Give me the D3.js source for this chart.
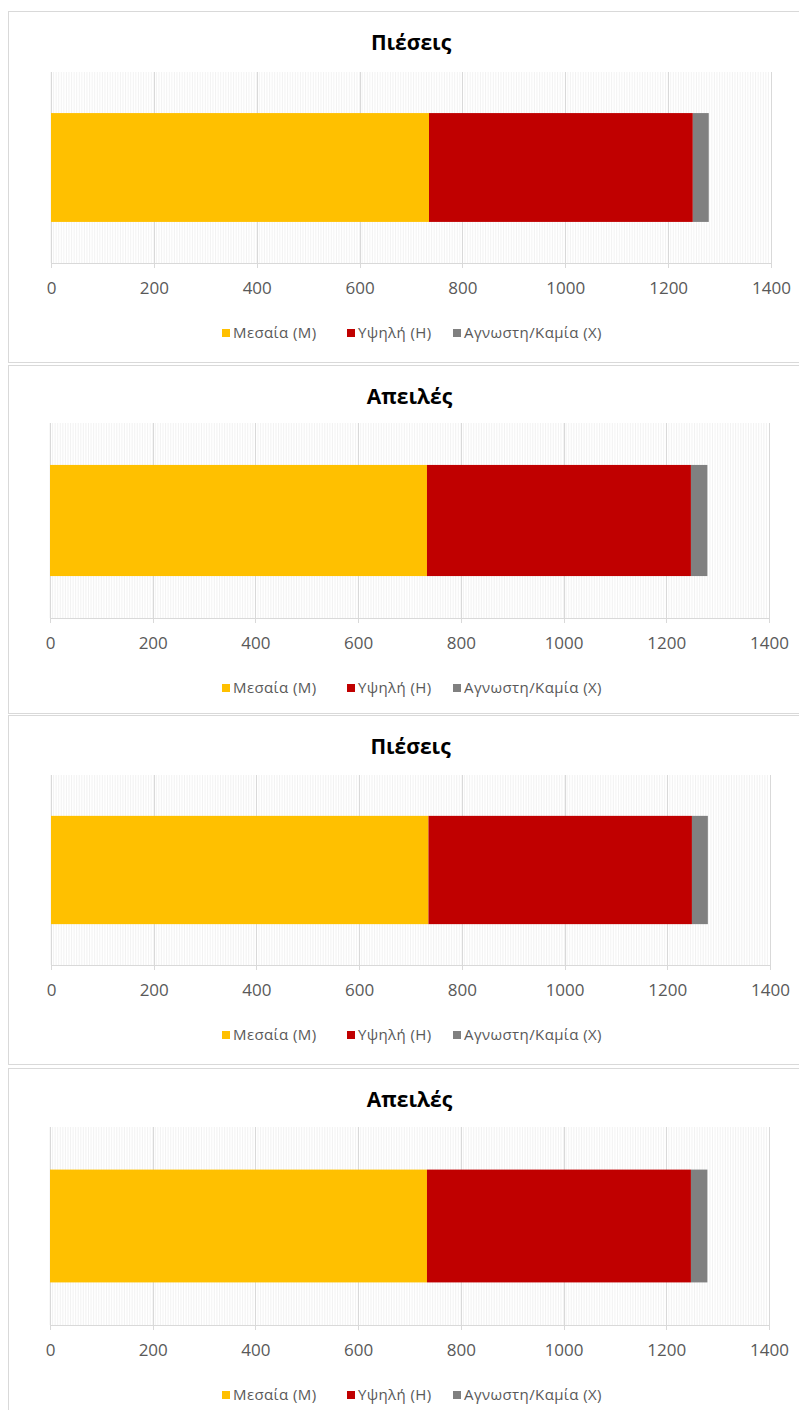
<!DOCTYPE html>
<html>
<head>
<meta charset="utf-8">
<script src="https://cdn.jsdelivr.net/npm/d3@7"></script>
<style>
  body { margin: 0; background: #fff; }
</style>
</head>
<body>
<script>
// chart data
var titles = ["Πιέσεις", "Απειλές", "Πιέσεις", "Απειλές"]
var seriesNames = ["Μεσαία (Μ)", "Υψηλή (Η)", "Αγνωστη/Καμία (Χ)"]
var seriesColors = ["#FFC000", "#C00000", "#808080"]
var mediumValues = [735, 734, 735, 734]
var highValues = [513, 514, 513, 514]
var unknownValues = [31, 32, 31, 32]
var tickValues = [0, 200, 400, 600, 800, 1000, 1200, 1400]

// page size
var w = 799
var h = 1410

// panel layout (border box, plot area)
var panels = [
    { top: 11, bottom: 362, plotTop: 72, plotBottom: 263, left: 51, right: 771 },
    { top: 365, bottom: 713, plotTop: 423, plotBottom: 618, left: 50, right: 769 },
    { top: 715, bottom: 1064, plotTop: 775, plotBottom: 965, left: 51, right: 770 },
    { top: 1068, bottom: 1430, plotTop: 1127, plotBottom: 1325, left: 50, right: 769 }
]

var svg = d3.select("body")
    .append("svg")
    .attr("width", w)
    .attr("height", h)

panels.forEach(function(p, i) {
    var g = svg.append("g")

    // panel border
    g.append("rect")
        .attr("x", 8.5)
        .attr("y", p.top + 0.5)
        .attr("width", w)
        .attr("height", p.bottom - p.top)
        .attr("fill", "#fff")
        .attr("stroke", "#d9d9d9")

    var xScale = d3.scaleLinear()
        .domain([0, 1400])
        .range([p.left, p.right])

    var yScale = d3.scaleBand()
        .domain([titles[i]])
        .range([p.plotTop, p.plotBottom])
        .padding(0.274)

    // minor gridlines
    g.append("g")
        .selectAll("line")
        .data(d3.range(0, 1400, 5))
        .enter()
        .append("line")
        .attr("x1", function(d) { return xScale(d) })
        .attr("x2", function(d) { return xScale(d) })
        .attr("y1", p.plotTop)
        .attr("y2", p.plotBottom)
        .attr("stroke", "#ececec")
        .attr("stroke-width", 0.7)

    // major gridlines with tick marks below axis
    g.append("g")
        .selectAll("line")
        .data(tickValues)
        .enter()
        .append("line")
        .attr("x1", function(d) { return Math.round(xScale(d)) + 0.5 })
        .attr("x2", function(d) { return Math.round(xScale(d)) + 0.5 })
        .attr("y1", p.plotTop)
        .attr("y2", p.plotBottom + 5)
        .attr("stroke", "#d9d9d9")
        .attr("stroke-width", 1)

    // axis line
    g.append("line")
        .attr("x1", p.left)
        .attr("x2", p.right)
        .attr("y1", p.plotBottom + 0.5)
        .attr("y2", p.plotBottom + 0.5)
        .attr("stroke", "#d9d9d9")

    // stacked bar
    var row = [mediumValues[i], highValues[i], unknownValues[i]]
    var start = 0
    row.forEach(function(v, k) {
        g.append("rect")
            .attr("x", xScale(start))
            .attr("y", yScale(titles[i]))
            .attr("width", xScale(start + v) - xScale(start))
            .attr("height", yScale.bandwidth())
            .attr("fill", seriesColors[k])
        start += v
    })

    // tick labels
    var xAxis = d3.axisBottom(xScale)
        .tickValues(tickValues)
        .tickFormat(d3.format("d"))
        .tickSize(0)
        .tickPadding(0)

    var axisG = g.append("g")
        .attr("transform", "translate(0," + (p.plotBottom + 25) + ")")
        .call(xAxis)
    axisG.select(".domain").remove()
    axisG.selectAll("text")
        .attr("dy", "0.35em")
        .attr("y", 0)
        .attr("fill", "#595959")
        .attr("font-size", "17px")
        .attr("font-family", "'Open Sans', sans-serif")

    // title
    g.append("text")
        .attr("text-anchor", "middle")
        .attr("x", (p.left + p.right) / 2)
        .attr("y", p.top + 32)
        .attr("dy", "0.35em")
        .text(titles[i])
        .attr("font-size", "21px")
        .attr("font-weight", "bold")
        .attr("fill", "#000")
        .attr("font-family", "'Open Sans', sans-serif")

    // legend
    var legendX = [222, 347, 453]
    var legend = g.append("g")
        .attr("transform", "translate(0," + (p.plotBottom + 70) + ")")
    seriesNames.forEach(function(name, k) {
        legend.append("rect")
            .attr("x", legendX[k])
            .attr("y", -4)
            .attr("width", 8)
            .attr("height", 8)
            .attr("fill", seriesColors[k])
        legend.append("text")
            .attr("x", legendX[k] + 11)
            .attr("y", 0)
            .attr("dy", "0.35em")
            .text(name)
            .attr("fill", "#595959")
            .attr("font-size", "15px")
            .attr("letter-spacing", "0.4px")
            .attr("font-family", "'Open Sans', sans-serif")
    })
})
</script>
</body>
</html>
